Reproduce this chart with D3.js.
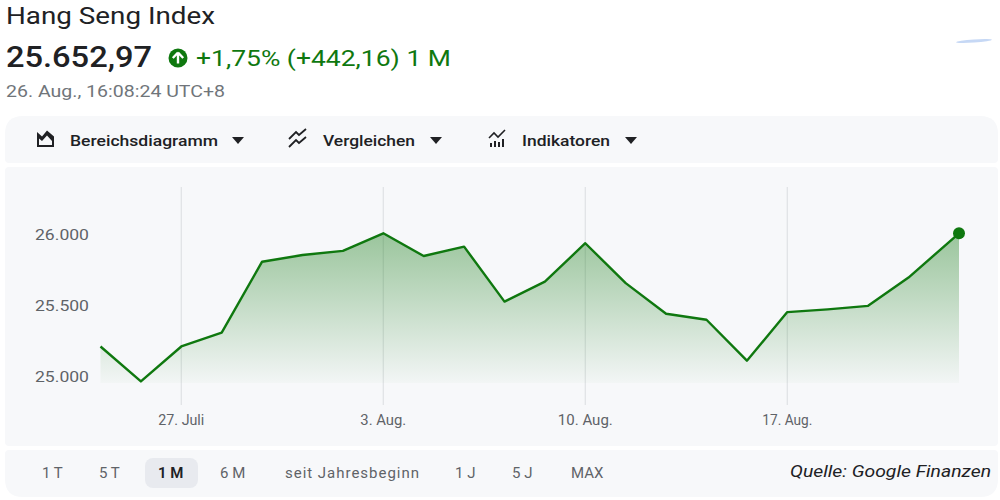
<!DOCTYPE html>
<html>
<head>
<meta charset="utf-8">
<script src="https://cdn.jsdelivr.net/npm/d3@7"></script>
<style>
  body { margin: 0; background: #fff; }
  svg { display: block; font-family: Roboto, "Noto Sans", sans-serif; }
</style>
</head>
<body>
<svg id="chart" width="1000" height="500"></svg>
<script>
// trading-day position of each close, last one is the live quote
const days = [0, 1, 2, 3, 4, 5, 6, 7, 8, 9, 10, 11, 12, 13, 14, 15, 16, 17, 18, 19, 20, 21.25];
const closes = [25215, 24969, 25215, 25313, 25812, 25859, 25888, 26012, 25852, 25918, 25531,
                25672, 25942, 25661, 25445, 25403, 25115, 25457, 25476, 25501, 25700, 26012];
const xTickDays = [2, 7, 12, 17];
const xTickLabels = ["27. Juli", "3. Aug.", "10. Aug.", "17. Aug."];
const yTicks = [25000, 25500, 26000];
const ranges = ["1 T", "5 T", "1 M", "6 M", "seit Jahresbeginn", "1 J", "5 J", "MAX"];
const rangeX = [42, 99, 158, 220, 285, 455, 512, 571];
const activeRange = "1 M";

const green = "#0f780f";
const svg = d3.select("#chart");

// helper: text stretched to the width it has in the screenshot
function label(g, x, y, txt, width, size) {
  const t = g.append("text").attr("x", x).attr("y", y).attr("font-size", size).text(txt);
  if (width) t.attr("textLength", width).attr("lengthAdjust", "spacingAndGlyphs");
  return t;
}

// header
label(svg, 6, 24, "Hang Seng Index", 209, 23).attr("fill", "#202124");
label(svg, 6, 67, "25.652,97", 146, 29).attr("font-weight", 500).attr("fill", "#202124");
svg.append("circle").attr("cx", 178).attr("cy", 58).attr("r", 9.5).attr("fill", green);
svg.append("path").attr("d", "M178,52.5 L172.8,58 M178,52.5 L183.2,58 M178,52.5 L178,63.5")
   .attr("stroke", "#fff").attr("stroke-width", 2.4).attr("fill", "none");
label(svg, 196, 66, "+1,75% (+442,16) 1 M", 255, 22).attr("fill", green);
label(svg, 6, 97, "26. Aug., 16:08:24 UTC+8", 219, 17).attr("fill", "#70757a");

// small swoosh top right
svg.append("ellipse").attr("cx", 974).attr("cy", 41).attr("rx", 18).attr("ry", 1.6)
   .attr("fill", "#c6d8f5").attr("transform", "rotate(-4,974,41)");

// panels
function roundedPath(x, y, w, h, rt, rb) {
  return `M${x+rt},${y} H${x+w-rt} Q${x+w},${y} ${x+w},${y+rt} V${y+h-rb} Q${x+w},${y+h} ${x+w-rb},${y+h}` +
         ` H${x+rb} Q${x},${y+h} ${x},${y+h-rb} V${y+rt} Q${x},${y} ${x+rt},${y} Z`;
}
svg.append("path").attr("d", roundedPath(5, 116, 993, 47, 18, 4)).attr("fill", "#f7f8fa");
svg.append("path").attr("d", roundedPath(5, 167, 993, 279, 4, 4)).attr("fill", "#f7f8fa");
svg.append("path").attr("d", roundedPath(5, 450, 993, 47, 4, 18)).attr("fill", "#f7f8fa");

// toolbar
const tb = svg.append("g").attr("font-weight", 500).attr("fill", "#202124");
tb.append("path").attr("d", "M37,147 V132 L42,136.5 L47,130.5 L54,136.5 V147 Z M39,145 H52 L52,141 L47,135.5 L42,141 L39,138.5 Z")
  .attr("fill", "#202124").attr("fill-rule", "evenodd");
label(tb, 70, 146, "Bereichsdiagramm", 148, 15.5);
tb.append("path").attr("d", "M232,137 L244,137 L238,144 Z").attr("fill", "#202124");
tb.append("path").attr("d", "M289,139 L296,132 L299,135 L306,129 M289,147 L296,140 L299,143 L306,137")
  .attr("stroke", "#202124").attr("stroke-width", 1.8).attr("fill", "none");
label(tb, 323, 146, "Vergleichen", 92, 15.5);
tb.append("path").attr("d", "M430,137 L442,137 L436,144 Z").attr("fill", "#202124");
tb.append("path").attr("d", "M489,138 L494,133 L498,137 L505,130")
  .attr("stroke", "#202124").attr("stroke-width", 1.6).attr("fill", "none");
[4, 6, 5, 8].forEach((h, i) => {
  tb.append("rect").attr("x", 490 + i * 4).attr("y", 147 - h).attr("width", 2).attr("height", h);
});
label(tb, 522, 146, "Indikatoren", 88, 15.5);
tb.append("path").attr("d", "M625,137 L637,137 L631,144 Z").attr("fill", "#202124");

// chart scales
const x = d3.scaleLinear().domain([0, 20]).range([100.5, 908.5]);
const y = d3.scaleLinear().domain([25000, 26000]).range([377, 235]);
const baseY = 383;

const plot = svg.append("g");

plot.selectAll("line.grid").data(xTickDays).enter().append("line")
    .attr("class", "grid")
    .attr("x1", d => x(d)).attr("x2", d => x(d))
    .attr("y1", 187).attr("y2", 405)
    .attr("stroke", "#dfe1e5").attr("stroke-width", 1.2);

const defs = svg.append("defs");
const grad = defs.append("linearGradient").attr("id", "fillGrad")
    .attr("gradientUnits", "userSpaceOnUse")
    .attr("x1", 0).attr("x2", 0).attr("y1", y(26012)).attr("y2", baseY);
grad.append("stop").attr("offset", "0%").attr("stop-color", green).attr("stop-opacity", 0.4);
grad.append("stop").attr("offset", "100%").attr("stop-color", green).attr("stop-opacity", 0.02);

const pts = days.map((d, i) => [d, closes[i]]);

plot.append("path").datum(pts)
    .attr("fill", "url(#fillGrad)")
    .attr("d", d3.area().x(d => x(d[0])).y0(baseY).y1(d => y(d[1])));

plot.append("path").datum(pts)
    .attr("fill", "none").attr("stroke", green).attr("stroke-width", 2.4)
    .attr("stroke-linejoin", "round")
    .attr("d", d3.line().x(d => x(d[0])).y(d => y(d[1])));

const last = pts[pts.length - 1];
plot.append("circle").attr("cx", x(last[0])).attr("cy", y(last[1])).attr("r", 6).attr("fill", green);

// y axis labels
plot.selectAll("text.ylab").data(yTicks).enter().append("text")
    .attr("class", "ylab")
    .attr("x", 89).attr("y", d => y(d)).attr("dy", "0.35em")
    .attr("text-anchor", "end").attr("font-size", 15).attr("fill", "#5f6368")
    .attr("textLength", 54).attr("lengthAdjust", "spacingAndGlyphs")
    .text(d => d3.format(",")(d).replace(",", "."));

// x axis labels
const xLabW = [46, 46, 55, 50];
plot.selectAll("text.xlab").data(xTickDays).enter().append("text")
    .attr("class", "xlab")
    .attr("x", d => x(d)).attr("y", 425)
    .attr("text-anchor", "middle").attr("font-size", 14).attr("fill", "#5f6368")
    .attr("textLength", (d, i) => xLabW[i]).attr("lengthAdjust", "spacingAndGlyphs")
    .text((d, i) => xTickLabels[i]);

// range selector
const rs = svg.append("g").attr("font-size", 15).attr("fill", "#5f6368");
rs.append("rect").attr("x", 145).attr("y", 458).attr("width", 53).attr("height", 30)
  .attr("rx", 8).attr("fill", "#e8eaef");
rs.selectAll("text").data(ranges).enter().append("text")
  .attr("x", (d, i) => rangeX[i]).attr("y", 478)
  .attr("font-weight", d => d === activeRange ? 600 : 400)
  .attr("fill", d => d === activeRange ? "#202124" : "#5f6368")
  .attr("textLength", d => d === "seit Jahresbeginn" ? 134 : null)
  .text(d => d);
label(svg, 991, 477, "Quelle: Google Finanzen", 201, 17)
   .attr("text-anchor", "end").attr("font-style", "italic").attr("fill", "#202124");
</script>
</body>
</html>
